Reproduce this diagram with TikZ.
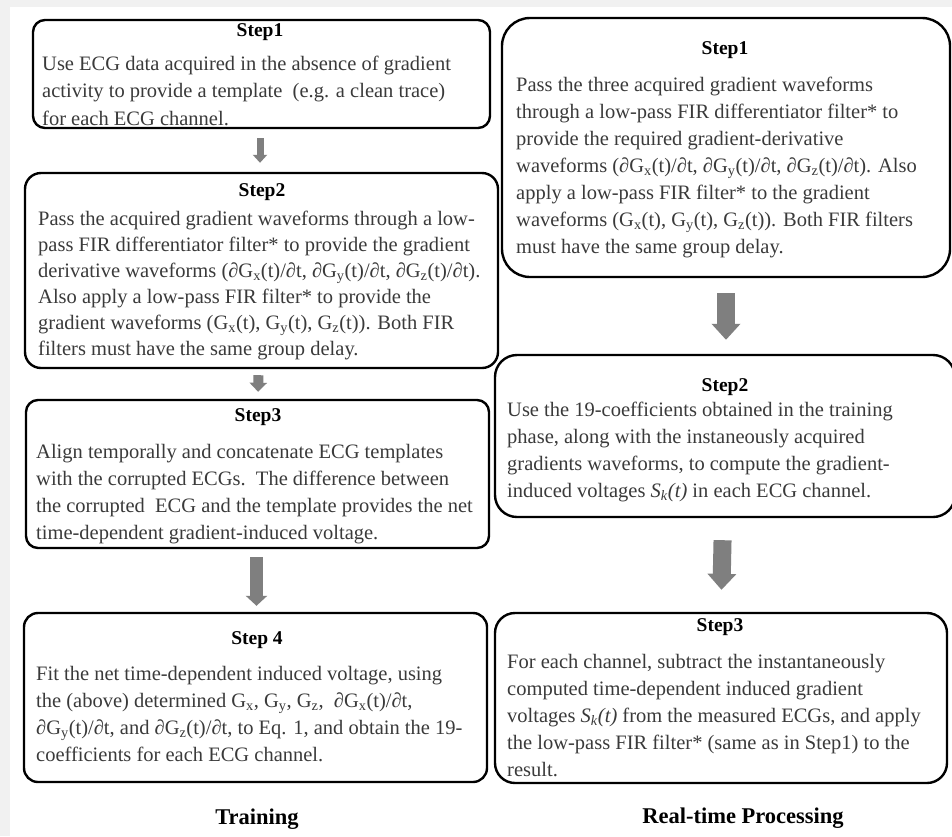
\documentclass[tikz,border=0pt]{standalone}
\usepackage{fontspec}
\setmainfont{Liberation Serif}
\usetikzlibrary{arrows.meta}
\definecolor{bodytext}{HTML}{3A3A3A}
\definecolor{arrowgray}{HTML}{7F7F7F}
\definecolor{pagegray}{HTML}{F1F1F1}
\newcommand{\dG}[1]{∂G\textsubscript{#1}(t)/∂t}
\newcommand{\Gs}[1]{G\textsubscript{#1}}
\newcommand{\Skt}{\textit{S}\textsubscript{\textit{k}}\textit{(t)}}
\tikzset{
  stepbox/.style={draw=black, line width=2.4pt, rectangle, inner sep=0pt, fill=white},
  steptitle/.style={font=\fontsize{19.5}{23}\selectfont\bfseries, text=black, inner sep=0pt, anchor=center},
  body/.style={text=bodytext, align=left, inner sep=0pt, anchor=base west},
  flowarrow/.style={draw=arrowgray, line cap=butt},
  collabel/.style={font=\fontsize{22.5}{26}\selectfont\bfseries, text=black, inner sep=0pt, anchor=center}
}
\begin{document}
\begin{tikzpicture}[x=1pt,y=-1pt]
\useasboundingbox (0,0) rectangle (952,836);
\fill[pagegray] (0,0) rectangle (952,836);
\fill[white] (10,7) rectangle (952,836);

% ---------- Training column ----------
\node[stepbox, rounded corners=12pt, minimum width=457pt, minimum height=108pt] (L1) at (261.5,74) {};
\node[steptitle] (L1t) at (260,32) {Step1};
\node[body, font=\fontsize{20.5}{27.5}\selectfont] (L1b) at (42,125) {Use ECG data acquired in the absence of gradient\\activity to provide a template\ \ (e.g. a clean trace)\\for each ECG channel.};

\node[stepbox, rounded corners=16pt, minimum width=473pt, minimum height=195pt] (L2) at (261.5,270.5) {};
\node[steptitle] (L2t) at (262,192) {Step2};
\node[body, font=\fontsize{20.5}{26}\selectfont] (L2b) at (38,355) {Pass the acquired gradient waveforms through a low-\\pass FIR differentiator filter* to provide the gradient\\derivative waveforms (\dG{x}, \dG{y}, \dG{z}).\\Also apply a low-pass FIR filter* to provide the\\gradient waveforms (\Gs{x}(t), \Gs{y}(t), \Gs{z}(t)). Both FIR\\filters must have the same group delay.};

\node[stepbox, rounded corners=12pt, minimum width=463pt, minimum height=148pt] (L3) at (257.5,474) {};
\node[steptitle] (L3t) at (258,417) {Step3};
\node[body, font=\fontsize{20.5}{26.7}\selectfont] (L3b) at (36,539) {Align temporally and concatenate ECG templates\\with the corrupted ECGs.\ \ The difference between\\the corrupted\ \ ECG and the template provides the net\\time-dependent gradient-induced voltage.};

\node[stepbox, rounded corners=14pt, minimum width=463pt, minimum height=169pt] (L4) at (255.5,697.5) {};
\node[steptitle] (L4t) at (257,640) {Step 4};
\node[body, font=\fontsize{20.5}{26.7}\selectfont] (L4b) at (36,761) {Fit the net time-dependent induced voltage, using\\the (above) determined \Gs{x}, \Gs{y}, \Gs{z},\ \ \dG{x},\\\dG{y}, and \dG{z}, to Eq. 1, and obtain the 19-\\coefficients for each ECG channel.};

\node[collabel] (Ltrain) at (257,819) {Training};

\draw[flowarrow, line width=7pt, -{Triangle[length=8pt,width=14pt]}, shorten <=9pt, shorten >=9pt] ([xshift=-1.5pt]L1.south) -- ([xshift=-1.5pt]L2.north);
\draw[flowarrow, line width=10pt, -{Triangle[length=9pt,width=17pt]}, shorten <=6pt, shorten >=7pt] ([xshift=-3pt]L2.south) -- ([xshift=0.5pt]L3.north);
\draw[flowarrow, line width=13pt, -{Triangle[length=10pt,width=21pt]}, shorten <=8pt, shorten >=6pt] ([xshift=-1pt]L3.south) -- ([xshift=1pt]L4.north);

% ---------- Real-time processing column ----------
\node[stepbox, rounded corners=28pt, minimum width=448pt, minimum height=259pt] (R1) at (726,147.5) {};
\node[steptitle] (R1t) at (725,50) {Step1};
\node[body, font=\fontsize{20.5}{27}\selectfont] (R1b) at (516,253) {Pass the three acquired gradient waveforms\\through a low-pass FIR differentiator filter* to\\provide the required gradient-derivative\\waveforms (\dG{x}, \dG{y}, \dG{z}). Also\\apply a low-pass FIR filter* to the gradient\\waveforms (\Gs{x}(t), \Gs{y}(t), \Gs{z}(t)). Both FIR filters\\must have the same group delay.};

\node[stepbox, rounded corners=22pt, minimum width=460pt, minimum height=162pt] (R2) at (725,436) {};
\node[steptitle] (R2t) at (725,387) {Step2};
\node[body, font=\fontsize{20.5}{27}\selectfont] (R2b) at (507,497) {Use the 19-coefficients obtained in the training\\phase, along with the instaneously acquired\\gradients waveforms, to compute the gradient-\\induced voltages \Skt{} in each ECG channel.};

\node[stepbox, rounded corners=20pt, minimum width=452pt, minimum height=170pt] (R3) at (721,698) {};
\node[steptitle] (R3t) at (720,627) {Step3};
\node[body, font=\fontsize{20.5}{27}\selectfont] (R3b) at (507,776) {For each channel, subtract the instantaneously\\computed time-dependent induced gradient\\voltages \Skt{} from the measured ECGs, and apply\\the low-pass FIR filter* (same as in Step1) to the\\result.};

\node[collabel] (Rproc) at (743,818) {Real-time Processing};

\draw[flowarrow, line width=18pt, -{Triangle[length=16pt,width=28pt]}, shorten <=15pt, shorten >=14pt] (R1.south) -- ([xshift=1pt]R2.north);
\draw[flowarrow, line width=18pt, -{Triangle[length=16pt,width=28pt]}, shorten <=22pt, shorten >=22pt] ([xshift=-2pt]R2.south) -- (R3.north);
\end{tikzpicture}
\end{document}
